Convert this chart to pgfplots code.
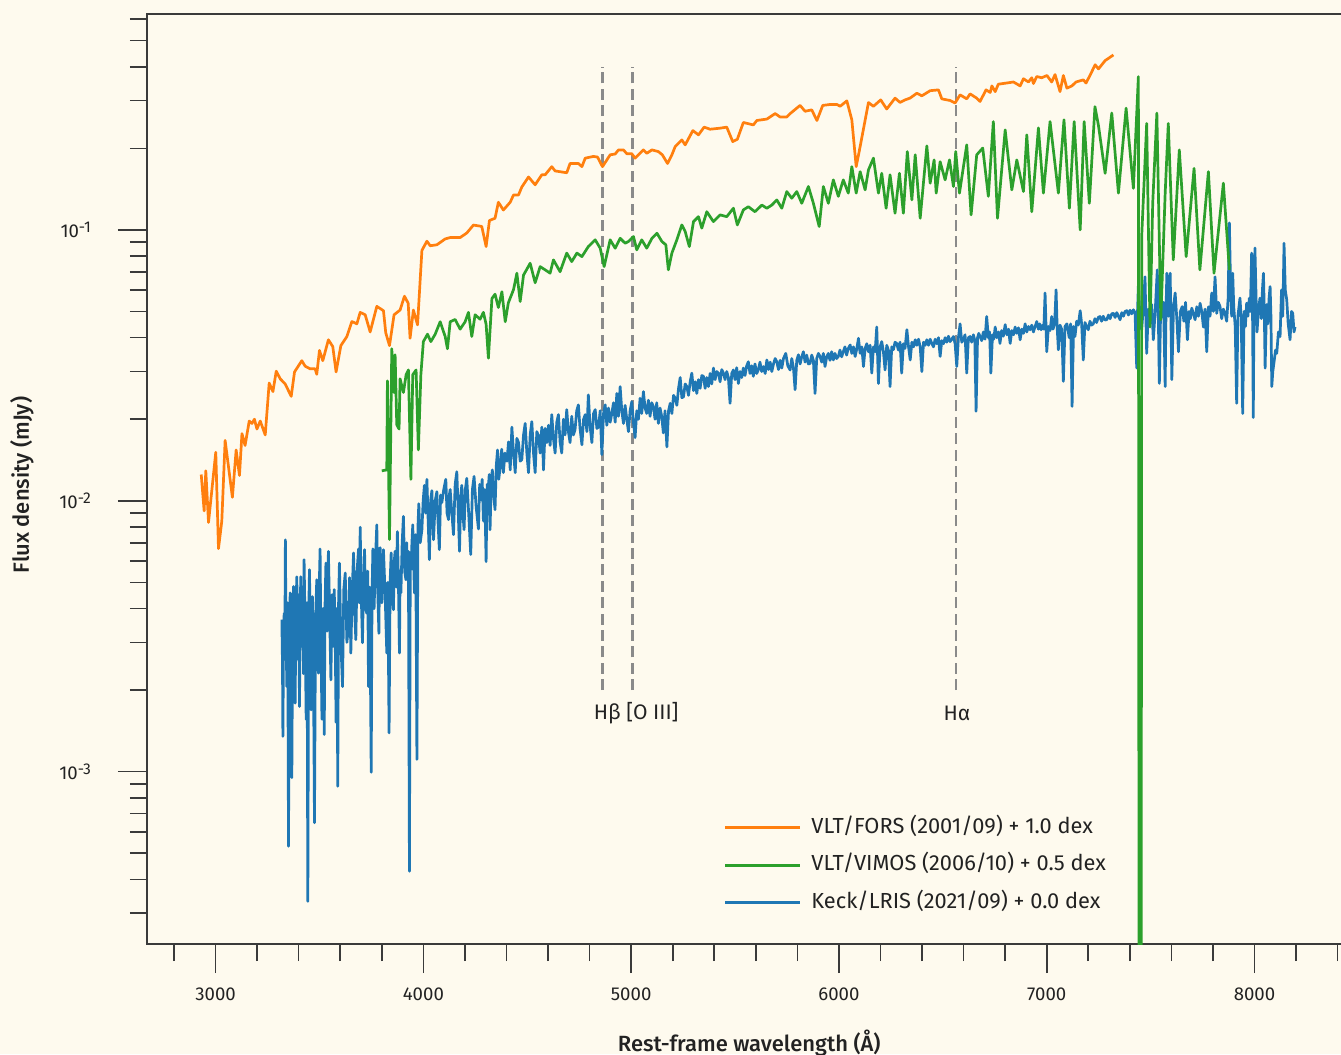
\documentclass[border=0pt]{standalone}
\usepackage{fontspec}
\setmainfont{Fira Sans}[BoldFont={Fira Sans Medium}]
\usepackage{pgfplots}
\usepackage{pgfplotstable}
\pgfplotsset{compat=1.18}
\usetikzlibrary{backgrounds}

\definecolor{bgcol}{HTML}{FEFAEE}
\definecolor{axcol}{HTML}{3A3A3A}
\definecolor{labcol}{HTML}{222222}
\definecolor{fors}{HTML}{FF7F0E}
\definecolor{vimos}{HTML}{2CA02C}
\definecolor{lris}{HTML}{1F77B4}
\definecolor{linecol}{HTML}{8A8A8A}

% VLT/FORS (2001/09), +1.0 dex
\pgfplotstableread{
lam flux
2931 0.0125
2945 0.00917
2953 0.0129
2966 0.00832
3001 0.0151
3014 0.00666
3030 0.00842
3046 0.0167
3081 0.0103
3099 0.0154
3115 0.0124
3127 0.0177
3142 0.0160
3162 0.0197
3175 0.0193
3187 0.0200
3199 0.0184
3215 0.0197
3239 0.0175
3258 0.0272
3276 0.0253
3292 0.0301
3311 0.0282
3335 0.0270
3364 0.0243
3380 0.0299
3415 0.0329
3431 0.0314
3455 0.0307
3479 0.0307
3487 0.0293
3500 0.0359
3516 0.0329
3543 0.0393
3564 0.0371
3580 0.0299
3603 0.0374
3632 0.0404
3656 0.0459
3680 0.0450
3696 0.0496
3720 0.0486
3744 0.0420
3776 0.0522
3808 0.0503
3819 0.0417
3837 0.0374
3859 0.0486
3888 0.0506
3909 0.0569
3927 0.0536
3936 0.0398
3952 0.0506
3972 0.0446
3993 0.0840
4017 0.0908
4033 0.0874
4065 0.0881
4105 0.0926
4129 0.0937
4177 0.0937
4209 0.0974
4241 0.1042
4281 0.1030
4302 0.0868
4318 0.1083
4345 0.1104
4361 0.1265
4385 0.1184
4418 0.1265
4434 0.1346
4458 0.1346
4474 0.1441
4506 0.1568
4538 0.1467
4570 0.1597
4586 0.1597
4618 0.1712
4634 0.1651
4690 0.1625
4706 0.1759
4746 0.1759
4763 0.1712
4779 0.1840
4818 0.1867
4838 0.1858
4862 0.1712
4899 0.1893
4923 0.1906
4939 0.1974
4963 0.1974
4979 0.1911
5003 0.1911
5019 0.1840
5059 0.1974
5075 0.1918
5100 0.1974
5131 0.1946
5150 0.1893
5175 0.1759
5196 0.1893
5212 0.2030
5244 0.2149
5260 0.2060
5297 0.2326
5324 0.2243
5351 0.2395
5380 0.2353
5428 0.2374
5460 0.2395
5489 0.2118
5511 0.2161
5540 0.2492
5588 0.2441
5605 0.2535
5653 0.2565
5693 0.2687
5717 0.2611
5749 0.2611
5765 0.2687
5813 0.2881
5837 0.2741
5869 0.2774
5894 0.2535
5922 0.2881
5957 0.2904
5990 0.2904
6006 0.2860
6038 0.2995
6062 0.2548
6083 0.1712
6102 0.2030
6142 0.2952
6166 0.2860
6201 0.3020
6230 0.2795
6270 0.3065
6294 0.2955
6318 0.3020
6342 0.3065
6375 0.3195
6399 0.3126
6439 0.3265
6479 0.3288
6495 0.3046
6535 0.3004
6559 0.2942
6583 0.3152
6615 0.3046
6631 0.3178
6663 0.3065
6679 0.2980
6708 0.3288
6728 0.3215
6736 0.3400
6752 0.3240
6767 0.3450
6808 0.3486
6840 0.3516
6872 0.3400
6888 0.3614
6912 0.3516
6928 0.3645
6936 0.3470
6952 0.3683
6976 0.3645
7001 0.3716
7024 0.3516
7040 0.3745
7064 0.3240
7080 0.3716
7097 0.3337
7121 0.3400
7141 0.3516
7176 0.3580
7189 0.3486
7208 0.3716
7233 0.4070
7249 0.3930
7281 0.4216
7321 0.4425
}\forsdata

% VLT/VIMOS (2006/10), +0.5 dex
\pgfplotstableread{
lam flux
3800 0.0129
3824 0.0130
3827 0.0277
3837 0.00719
3848 0.0364
3859 0.0251
3864 0.0346
3872 0.0191
3883 0.0184
3888 0.0282
3904 0.0251
3917 0.0292
3928 0.0304
3940 0.0120
3949 0.0292
3965 0.0304
3976 0.0154
3988 0.0292
4000 0.0387
4020 0.0412
4036 0.0387
4057 0.0412
4081 0.0458
4105 0.0404
4116 0.0364
4129 0.0458
4153 0.0467
4177 0.0430
4201 0.0458
4217 0.0496
4233 0.0404
4249 0.0486
4273 0.0468
4289 0.0496
4302 0.0448
4313 0.0336
4330 0.0558
4345 0.0579
4361 0.0517
4378 0.0591
4394 0.0458
4409 0.0538
4434 0.0602
4450 0.0692
4466 0.0544
4482 0.0681
4514 0.0753
4538 0.0638
4562 0.0732
4586 0.0712
4610 0.0692
4626 0.0775
4658 0.0701
4690 0.0821
4714 0.0764
4739 0.0821
4763 0.0797
4794 0.0868
4827 0.0919
4851 0.0856
4870 0.0732
4899 0.0919
4923 0.0856
4947 0.0931
4971 0.0893
4987 0.0906
5011 0.0945
5027 0.0844
5051 0.0919
5075 0.0856
5100 0.0931
5124 0.0972
5148 0.0906
5167 0.0881
5179 0.0712
5196 0.0821
5220 0.0919
5244 0.1043
5260 0.0986
5280 0.0868
5300 0.1073
5324 0.1119
5340 0.1015
5364 0.1167
5396 0.1073
5428 0.1136
5460 0.1119
5492 0.1202
5511 0.1043
5540 0.1185
5564 0.1218
5596 0.1167
5629 0.1235
5653 0.1202
5677 0.1235
5701 0.1290
5725 0.1202
5749 0.1385
5773 0.1309
5797 0.1385
5821 0.1254
5853 0.1446
5877 0.1254
5905 0.1029
5925 0.1446
5949 0.1254
5973 0.1530
5997 0.1330
6021 0.1530
6045 0.1367
6062 0.1712
6083 0.1367
6102 0.1641
6126 0.1405
6142 0.1665
6166 0.1840
6190 0.1367
6206 0.1618
6227 0.1202
6246 0.1597
6270 0.1152
6291 0.1618
6310 0.1152
6329 0.1946
6351 0.1290
6367 0.1893
6391 0.1104
6423 0.2042
6439 0.1487
6458 0.1813
6468 0.1367
6487 0.1785
6511 0.1530
6532 0.1813
6551 0.1446
6562 0.1946
6580 0.1367
6615 0.2060
6636 0.1136
6663 0.1893
6692 0.2005
6719 0.1330
6743 0.2511
6763 0.1104
6800 0.2340
6832 0.1405
6856 0.1813
6888 0.1385
6904 0.2243
6928 0.1167
6960 0.2380
6984 0.1367
7016 0.2511
7056 0.1367
7083 0.2548
7109 0.1202
7132 0.2511
7161 0.1000
7180 0.2511
7205 0.1254
7232 0.2850
7249 0.2427
7281 0.1618
7313 0.2700
7345 0.1367
7382 0.2813
7417 0.1424
7441 0.3678
7447 0.0000001
7452 0.0000001
7457 0.0945
7462 0.1155
7481 0.2472
7497 0.0438
7510 0.1254
7530 0.2700
7549 0.0466
7570 0.1367
7585 0.2472
7609 0.0775
7638 0.1974
7671 0.0797
7709 0.1687
7737 0.0712
7778 0.1641
7805 0.0692
7850 0.1487
7879 0.0712
}\vimosdata

% Keck/LRIS (2021/09), +0.0 dex
\pgfplotstableread{
lam flux
3319 0.00364
3322 0.00250
3324 0.00135
3327 0.00300
3330 0.00384
3333 0.00260
3336 0.00718
3339 0.00330
3343 0.00206
3347 0.00420
3351 0.000530
3355 0.00310
3359 0.00457
3363 0.00240
3367 0.000950
3371 0.00350
3375 0.00483
3379 0.00280
3383 0.00179
3387 0.00400
3391 0.00524
3395 0.00260
3399 0.00450
3404 0.00174
3407 0.00380
3410 0.00524
3415 0.00290
3420 0.00405
3423 0.00230
3426 0.00606
3431 0.00340
3436 0.00156
3440 0.00420
3444 0.000332
3448 0.00380
3452 0.00557
3456 0.00300
3460 0.00169
3463 0.00390
3466 0.00443
3471 0.00250
3476 0.000648
3481 0.00360
3487 0.00511
3491 0.00280
3495 0.00231
3499 0.00480
3503 0.00664
3507 0.00300
3512 0.00156
3517 0.00400
3523 0.00137
3527 0.00420
3531 0.00589
3537 0.00330
3543 0.00651
3549 0.00380
3555 0.00218
3561 0.00450
3566 0.00290
3571 0.00470
3575 0.00350
3580 0.00152
3584 0.00400
3588 0.000884
3592 0.00420
3596 0.00589
3603 0.00300
3611 0.00206
3617 0.00470
3624 0.00541
3632 0.00300
3640 0.00345
3645 0.00520
3651 0.00274
3657 0.00450
3664 0.00642
3670 0.00380
3675 0.00307
3681 0.00550
3688 0.00664
3692 0.00420
3696 0.00799
3701 0.00450
3707 0.00299
3712 0.00500
3717 0.00660
3722 0.00400
3728 0.00384
3732 0.00550
3736 0.00206
3742 0.00480
3749 0.000995
3753 0.00450
3757 0.00664
3763 0.00400
3769 0.00600
3776 0.00815
3781 0.00450
3786 0.00324
3789 0.00560
3792 0.00671
3800 0.00420
3808 0.00660
3816 0.00450
3824 0.00274
3829 0.00500
3835 0.00139
3840 0.00500
3845 0.00642
3850 0.00450
3856 0.00396
3860 0.00600
3864 0.00651
3870 0.00480
3875 0.00770
3880 0.00500
3885 0.00274
3888 0.00550
3892 0.00457
3898 0.00700
3904 0.00876
3910 0.00550
3916 0.00511
3920 0.00700
3923 0.00541
3928 0.00650
3933 0.000429
3937 0.00600
3940 0.00557
3945 0.00700
3949 0.00815
3953 0.00600
3957 0.00457
3963 0.00750
3969 0.00111
3974 0.00800
3978 0.00975
3985 0.00700
3993 0.00782
3999 0.0100
4005 0.0114
4011 0.00900
4017 0.0120
4023 0.00850
4029 0.00606
4035 0.0100
4041 0.0109
4045 0.00850
4049 0.00718
4057 0.0100
4065 0.0108
4071 0.00820
4077 0.00660
4083 0.0105
4089 0.00985
4098 0.0110
4108 0.0120
4114 0.00900
4121 0.00852
4125 0.0105
4129 0.0110
4137 0.00900
4145 0.00750
4153 0.0115
4161 0.0128
4167 0.00950
4174 0.00651
4180 0.0105
4185 0.0114
4190 0.00900
4196 0.00782
4202 0.0110
4209 0.0121
4218 0.00900
4228 0.00633
4236 0.0110
4244 0.0123
4254 0.00950
4265 0.00787
4271 0.0115
4277 0.0101
4283 0.0120
4289 0.00842
4295 0.0110
4302 0.00596
4307 0.0115
4312 0.0110
4317 0.0125
4321 0.00782
4327 0.0120
4332 0.0130
4338 0.0105
4345 0.00927
4351 0.0135
4357 0.0154
4363 0.0120
4370 0.0134
4377 0.0155
4385 0.0127
4393 0.0150
4402 0.0140
4410 0.0165
4418 0.0130
4426 0.0187
4434 0.0150
4442 0.0127
4450 0.0170
4458 0.0164
4466 0.0140
4474 0.0142
4482 0.0175
4490 0.0193
4498 0.0150
4506 0.0127
4514 0.0175
4522 0.0196
4530 0.0150
4538 0.0127
4546 0.0180
4554 0.0174
4562 0.0150
4570 0.0187
4574 0.0165
4578 0.0130
4586 0.0185
4594 0.0164
4602 0.0190
4610 0.0160
4618 0.0208
4626 0.0170
4634 0.0150
4642 0.0195
4650 0.0208
4658 0.0165
4666 0.0150
4674 0.0200
4682 0.0175
4690 0.0217
4698 0.0180
4706 0.0164
4714 0.0205
4722 0.0175
4730 0.0183
4738 0.0215
4746 0.0226
4754 0.0185
4763 0.0161
4771 0.0200
4779 0.0208
4787 0.0180
4794 0.0246
4802 0.0190
4811 0.0164
4819 0.0210
4827 0.0217
4835 0.0185
4843 0.0187
4851 0.0215
4859 0.0148
4867 0.0210
4875 0.0226
4883 0.0190
4891 0.0220
4899 0.0195
4907 0.0210
4915 0.0230
4923 0.0195
4931 0.0249
4939 0.0205
4947 0.0264
4955 0.0215
4963 0.0193
4971 0.0225
4979 0.0200
4987 0.0180
4995 0.0215
5003 0.0232
5011 0.0195
5019 0.0171
5027 0.0215
5035 0.0200
5043 0.0239
5051 0.0210
5059 0.0253
5067 0.0220
5075 0.0210
5083 0.0235
5091 0.0205
5099 0.0230
5107 0.0223
5115 0.0200
5123 0.0230
5131 0.0193
5139 0.0220
5147 0.0205
5155 0.0178
5163 0.0215
5172 0.0158
5180 0.0215
5188 0.0229
5196 0.0210
5204 0.0245
5212 0.0239
5220 0.0225
5228 0.0260
5236 0.0285
5244 0.0240
5252 0.0242
5260 0.0270
5268 0.0264
5276 0.0245
5284 0.0275
5292 0.0296
5300 0.0255
5308 0.0275
5316 0.0249
5324 0.0280
5332 0.0260
5340 0.0290
5348 0.0288
5356 0.0260
5364 0.0285
5372 0.0264
5380 0.0295
5388 0.0270
5396 0.0309
5404 0.0280
5412 0.0300
5420 0.0296
5428 0.0275
5436 0.0305
5444 0.0296
5452 0.0280
5460 0.0300
5468 0.0285
5476 0.0229
5484 0.0295
5492 0.0304
5500 0.0280
5508 0.0310
5516 0.0271
5524 0.0300
5532 0.0285
5540 0.0309
5548 0.0290
5556 0.0315
5564 0.0326
5572 0.0295
5580 0.0315
5588 0.0288
5596 0.0320
5604 0.0295
5612 0.0304
5620 0.0325
5628 0.0300
5637 0.0313
5645 0.0295
5653 0.0331
5661 0.0305
5669 0.0325
5677 0.0300
5685 0.0320
5693 0.0335
5701 0.0326
5709 0.0305
5717 0.0330
5725 0.0309
5733 0.0335
5744 0.0350
5754 0.0315
5765 0.0304
5773 0.0335
5781 0.0310
5789 0.0257
5797 0.0330
5805 0.0346
5813 0.0320
5821 0.0340
5829 0.0355
5837 0.0325
5845 0.0345
5853 0.0320
5861 0.0321
5869 0.0345
5877 0.0330
5885 0.0249
5893 0.0335
5901 0.0350
5909 0.0341
5917 0.0325
5925 0.0350
5933 0.0313
5941 0.0340
5949 0.0350
5957 0.0330
5965 0.0355
5973 0.0331
5981 0.0350
5989 0.0335
5997 0.0341
6005 0.0360
6013 0.0340
6021 0.0355
6029 0.0370
6037 0.0345
6045 0.0365
6054 0.0376
6062 0.0350
6070 0.0370
6078 0.0341
6086 0.0365
6094 0.0398
6102 0.0350
6110 0.0370
6118 0.0313
6126 0.0365
6134 0.0380
6142 0.0355
6150 0.0375
6158 0.0296
6166 0.0370
6174 0.0355
6182 0.0438
6190 0.0271
6198 0.0370
6206 0.0387
6214 0.0355
6222 0.0304
6230 0.0375
6238 0.0360
6246 0.0264
6254 0.0370
6262 0.0361
6270 0.0385
6278 0.0381
6286 0.0360
6294 0.0385
6302 0.0296
6310 0.0380
6318 0.0365
6327 0.0428
6335 0.0370
6343 0.0331
6351 0.0385
6359 0.0370
6367 0.0393
6375 0.0375
6383 0.0395
6391 0.0370
6399 0.0300
6407 0.0385
6415 0.0375
6423 0.0393
6431 0.0375
6439 0.0395
6447 0.0381
6455 0.0370
6463 0.0395
6471 0.0380
6479 0.0400
6487 0.0341
6495 0.0390
6503 0.0380
6511 0.0400
6519 0.0385
6527 0.0405
6535 0.0387
6543 0.0395
6551 0.0404
6559 0.0380
6567 0.0313
6575 0.0400
6583 0.0450
6591 0.0385
6599 0.0393
6607 0.0410
6615 0.0296
6623 0.0400
6631 0.0404
6639 0.0385
6647 0.0410
6654 0.0390
6660 0.0214
6667 0.0400
6673 0.0415
6679 0.0404
6687 0.0390
6695 0.0420
6703 0.0395
6711 0.0479
6719 0.0400
6725 0.0420
6731 0.0296
6739 0.0410
6745 0.0395
6752 0.0438
6760 0.0400
6768 0.0420
6775 0.0381
6783 0.0425
6791 0.0405
6800 0.0447
6808 0.0410
6816 0.0430
6824 0.0381
6832 0.0425
6840 0.0410
6848 0.0438
6856 0.0415
6864 0.0435
6872 0.0393
6880 0.0430
6888 0.0415
6896 0.0450
6904 0.0420
6912 0.0440
6920 0.0428
6928 0.0445
6936 0.0420
6944 0.0440
6952 0.0459
6960 0.0430
6966 0.0450
6973 0.0428
6980 0.0445
6986 0.0430
6992 0.0585
7000 0.0355
7008 0.0440
7016 0.0425
7024 0.0479
7030 0.0430
7038 0.0450
7045 0.0601
7050 0.0440
7056 0.0361
7064 0.0445
7072 0.0430
7080 0.0276
7088 0.0440
7097 0.0450
7102 0.0430
7108 0.0400
7115 0.0450
7122 0.0223
7129 0.0440
7136 0.0404
7144 0.0460
7152 0.0445
7161 0.0503
7168 0.0450
7176 0.0331
7184 0.0455
7192 0.0440
7200 0.0428
7208 0.0460
7216 0.0445
7224 0.0450
7232 0.0470
7240 0.0455
7248 0.0475
7256 0.0479
7264 0.0460
7272 0.0480
7280 0.0465
7289 0.0466
7297 0.0485
7305 0.0470
7313 0.0490
7321 0.0492
7329 0.0475
7337 0.0495
7345 0.0480
7353 0.0466
7361 0.0495
7369 0.0480
7377 0.0500
7385 0.0503
7393 0.0485
7401 0.0505
7409 0.0490
7417 0.0507
7425 0.0495
7433 0.0309
7437 0.0500
7441 0.0625
7449 0.0470
7457 0.0428
7465 0.0520
7473 0.0671
7477 0.0480
7481 0.0350
7489 0.0510
7497 0.0479
7505 0.0530
7513 0.0393
7522 0.0500
7532 0.0712
7537 0.0480
7542 0.0271
7548 0.0500
7554 0.0479
7562 0.0540
7570 0.0264
7574 0.0500
7578 0.0692
7586 0.0480
7594 0.0692
7598 0.0450
7602 0.0280
7610 0.0520
7618 0.0585
7626 0.0470
7634 0.0355
7643 0.0500
7652 0.0521
7660 0.0460
7668 0.0540
7677 0.0393
7685 0.0500
7691 0.0470
7698 0.0514
7706 0.0490
7714 0.0466
7722 0.0520
7730 0.0480
7738 0.0536
7746 0.0500
7754 0.0438
7762 0.0510
7770 0.0355
7778 0.0520
7786 0.0480
7794 0.0585
7802 0.0500
7810 0.0671
7818 0.0492
7826 0.0540
7834 0.0521
7842 0.0470
7850 0.0510
7858 0.0492
7866 0.0460
7873 0.0560
7879 0.1061
7885 0.0600
7890 0.0480
7895 0.0692
7900 0.0520
7907 0.0440
7914 0.0229
7920 0.0480
7930 0.0560
7936 0.0470
7943 0.0210
7950 0.0500
7956 0.0440
7962 0.0536
7968 0.0480
7975 0.0560
7980 0.0500
7986 0.0821
7990 0.0550
7994 0.0203
7998 0.0600
8002 0.0857
8008 0.0540
8012 0.0420
8018 0.0492
8026 0.0560
8033 0.0470
8038 0.0600
8043 0.0692
8047 0.0500
8051 0.0309
8058 0.0530
8064 0.0450
8070 0.0560
8075 0.0618
8079 0.0480
8083 0.0264
8088 0.0300
8095 0.0330
8101 0.0360
8107 0.0350
8115 0.0420
8123 0.0404
8130 0.0600
8136 0.0480
8142 0.0893
8148 0.0600
8155 0.0552
8162 0.0450
8171 0.0393
8178 0.0500
8184 0.0492
8190 0.0420
8195 0.0438
}\lrisdata

\newcommand{\dec}[1]{10\raisebox{2.8pt}{\fontsize{7.8}{8}\selectfont #1}}

\begin{document}
\begin{tikzpicture}
\begin{axis}[
    scale only axis, width=597.5pt, height=465pt,
    xmin=2670, xmax=8421,
    ymode=log, ymin=2.31e-4, ymax=0.6266,
    axis background/.style={fill=bgcol},
    axis line style={draw=axcol, line width=1pt},
    tick style={draw=axcol, line width=0.8pt},
    tick align=outside, tick pos=left,
    major tick length=14.5pt, minor tick length=8.5pt,
    xtick={3000,4000,5000,6000,7000,8000},
    xticklabels={3000,4000,5000,6000,7000,8000},
    minor xtick={2800,3000,...,8400},
    ytick={1e-3,1e-2,1e-1},
    yticklabels={\dec{-3},\dec{-2},\dec{-1}},
    minor ytick={3e-4,4e-4,5e-4,6e-4,7e-4,8e-4,9e-4,2e-3,3e-3,4e-3,5e-3,6e-3,7e-3,8e-3,9e-3,2e-2,3e-2,4e-2,5e-2,6e-2,7e-2,8e-2,9e-2,0.2,0.3,0.4,0.5,0.6},
    ticklabel style={font=\fontsize{9.3}{11}\selectfont, text=labcol},
    xticklabel style={yshift=-4pt},
    yticklabel style={xshift=-10pt},
    xlabel={\bfseries Rest-frame wavelength (Å)},
    ylabel={\bfseries Flux density (mJy)},
    label style={font=\fontsize{11}{13}\selectfont, text=labcol},
    xlabel style={at={(axis description cs:0.504,-0.1151)}, anchor=base},
    ylabel style={at={(axis description cs:-0.0989,0.4935)}, anchor=base},
    legend cell align=left,
    reverse legend,
    legend image code/.code={\draw[#1] (0pt,0pt) -- (37.5pt,0pt);},
    legend style={at={(0.4826,0.1366)}, anchor=north west, draw=none, fill=none,
      inner sep=0pt, outer sep=0pt, row sep=7.95pt, column sep=5pt,
      font=\fontsize{10.9}{12}\selectfont, text=labcol,
      nodes={inner sep=0pt, text height=8pt, text depth=2.8pt}},
    every axis plot/.append style={line width=1.35pt, line join=round},
]
\coordinate (SW) at (rel axis cs:0,0);
\coordinate (NE) at (rel axis cs:1,1);

% emission line markers
\addplot[linecol, line width=1.4pt, dash pattern=on 5.5pt off 2.7pt, forget plot] coordinates {(4861,0.002) (4861,0.4)};
\addplot[linecol, line width=1.4pt, dash pattern=on 5.5pt off 2.7pt, forget plot] coordinates {(5007,0.002) (5007,0.4)};
\addplot[linecol, line width=1.4pt, dash pattern=on 5.5pt off 2.7pt, forget plot] coordinates {(6563,0.002) (6563,0.4)};
\node[font=\fontsize{10.5}{12}\selectfont, text=labcol] at (axis cs:5024,0.00164) {Hβ [O III]};
\node[font=\fontsize{10.5}{12}\selectfont, text=labcol] at (axis cs:6568,0.00164) {Hα};

\addplot[lris] table[x=lam, y=flux] {\lrisdata};
\addlegendentry{Keck/LRIS (2021/09) + 0.0 dex}
\addplot[vimos] table[x=lam, y=flux] {\vimosdata};
\addlegendentry{VLT/VIMOS (2006/10) + 0.5 dex}
\addplot[fors] table[x=lam, y=flux] {\forsdata};
\addlegendentry{VLT/FORS (2001/09) + 1.0 dex}
\end{axis}
\pgfresetboundingbox
\begin{pgfonlayer}{background}
\fill[bgcol] ([xshift=-73.5pt,yshift=-55pt]SW) rectangle ([xshift=-0.5pt,yshift=7pt]NE);
\end{pgfonlayer}
\path[use as bounding box] ([xshift=-73.5pt,yshift=-55pt]SW) rectangle ([xshift=-0.5pt,yshift=7pt]NE);
\end{tikzpicture}
\end{document}
